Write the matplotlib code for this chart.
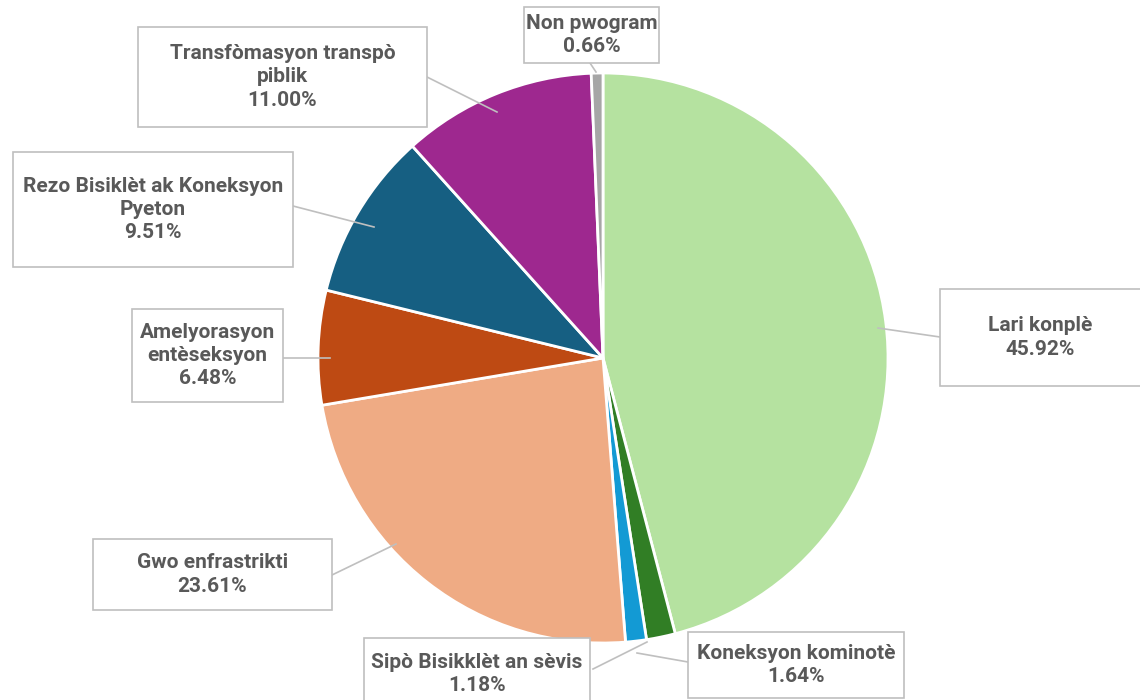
import matplotlib.pyplot as plt
from matplotlib.patches import Rectangle

# data
categories = ["Lari konplè", "Koneksyon kominotè", "Sipò Bisikklèt an sèvis",
              "Gwo enfrastrikti", "Amelyorasyon entèseksyon",
              "Rezo Bisiklèt ak Koneksyon Pyeton",
              "Transfòmasyon transpò piblik", "Non pwogram"]
shares = [45.92, 1.64, 1.18, 23.61, 6.48, 9.51, 11.00, 0.66]
label_text = ["Lari konplè", "Koneksyon kominotè", "Sipò Bisikklèt an sèvis",
              "Gwo enfrastrikti", "Amelyorasyon\nentèseksyon",
              "Rezo Bisiklèt ak Koneksyon\nPyeton",
              "Transfòmasyon transpò\npiblik", "Non pwogram"]
colors = ["#B5E2A0", "#317E25", "#139AD4", "#EFAB84", "#BE4A13",
          "#165F82", "#9E288F", "#A6A6A6"]

# layout, in pixels from top-left: label boxes (x0, y0, x1, y1)
boxes = [(940, 289, 1140, 386), (688, 632, 904, 698), (364, 638, 590, 710),
         (93, 539, 332, 610), (132, 309, 283, 402), (13, 152, 293, 267),
         (138, 27, 427, 127), (524, 7, 659, 63)]
# leader lines: (start on box, end at pie)
leaders = [((940, 337), (878, 328)), ((688, 662), (637, 653)),
           ((593, 669), (647, 642)), ((332, 575), (396, 544)),
           ((283, 358), (330, 358)), ((293, 206), (374, 227)),
           ((427, 77), (497, 112)), ((590, 63), (596, 72))]

W, H = 1140, 700
fig = plt.figure(figsize=(11.4, 7), dpi=100)
ax = fig.add_axes([0, 0, 1, 1])

ax.pie(shares, colors=colors, startangle=90, counterclock=False,
       center=(603, H - 358), radius=285,
       wedgeprops=dict(edgecolor="white", linewidth=2))

for txt, v, (x0, y0, x1, y1), (p0, p1) in zip(label_text, shares, boxes, leaders):
    ax.plot([p0[0], p1[0]], [H - p0[1], H - p1[1]], color="#BFBFBF", lw=1.2, zorder=5)
    # box on the right edge runs off the figure
    wid = x1 - x0 + (20 if x1 >= W else 0)
    ax.add_patch(Rectangle((x0, H - y1), wid, y1 - y0, facecolor="white",
                           edgecolor="#BFBFBF", lw=1.2, zorder=6))
    ax.text((x0 + x1) / 2, H - (y0 + y1) / 2,
            f"{txt}\n{v:.2f}%", ha="center", va="center", fontsize=15,
            fontweight="bold", color="#595959", family=["Roboto", "DejaVu Sans"],
            linespacing=1.3, zorder=7)

ax.set_xlim(0, W)
ax.set_ylim(0, H)
ax.set_aspect("equal")
ax.axis("off")

fig.savefig("out.png", dpi=100)
